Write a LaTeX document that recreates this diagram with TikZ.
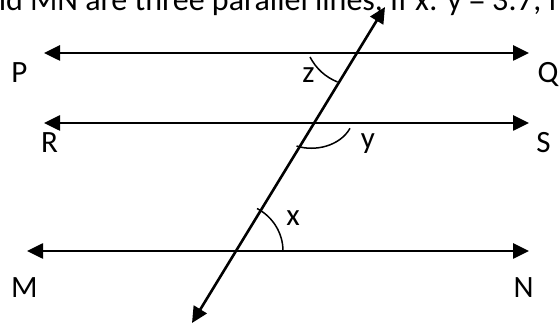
\documentclass[tikz,border=0pt]{standalone}
\usepackage{fontspec}
\setmainfont{Carlito}
\usetikzlibrary{arrows.meta}
\begin{document}
\begin{tikzpicture}[x=1pt,y=-1pt,
  parline/.style={line width=2.6pt, {Triangle[length=16pt,width=15pt]}-{Triangle[length=16pt,width=15pt]}},
  anglearc/.style={line width=1.5pt},
  lbl/.style={inner sep=0pt, anchor=base, font=\fontsize{31}{37}\selectfont},
  toptext/.style={inner sep=0pt, anchor=base west, font=\fontsize{32}{38}\selectfont},
]
\useasboundingbox (0,0) rectangle (559,328);
\begin{scope}
\clip (0,0) rectangle (559,328);
\node[toptext] (question) at (390,11) {\llap{PQ, RS and MN are three parallel lines, }If x: y = 3:7, find z.};
\end{scope}
% line end points
\coordinate (Pend) at (44,53);
\coordinate (Qend) at (529,53);
\coordinate (Rend) at (44,123);
\coordinate (Send) at (529,123);
\coordinate (Mend) at (27,251);
\coordinate (Nend) at (529,251);
\coordinate (Ttop) at (385,7);
\coordinate (Tbot) at (192,323);
% lines
\draw[parline] (Pend) -- (Qend);
\draw[parline] (Rend) -- (Send);
\draw[parline] (Mend) -- (Nend);
\draw[parline] (Tbot) -- (Ttop);
% angle arcs
\coordinate (za) at (310,57);
\coordinate (zb) at (337.5,82);
\draw[anglearc] (za) .. controls (316.1,68.5) and (325.1,76.9) .. (zb);
\coordinate (ya) at (296.5,146);
\coordinate (yb) at (350,128.3);
\draw[anglearc] (ya) .. controls (315,152) and (340,146) .. (yb);
\coordinate (xa) at (283,251);
\coordinate (xb) at (257,208.5);
\draw[anglearc] (xa) .. controls (283,233.2) and (272.9,216.8) .. (xb);
% labels
\node[lbl] (P) at (19.5,83) {P};
\node[lbl] (Q) at (548,83) {Q};
\node[lbl] (R) at (49.5,153) {R};
\node[lbl] (S) at (543.5,153) {S};
\node[lbl] (M) at (24.5,298) {M};
\node[lbl] (N) at (523.5,298) {N};
\node[lbl] (z) at (308.5,83) {z};
\node[lbl] (y) at (368,149) {y};
\node[lbl] (x) at (293,226) {x};
\end{tikzpicture}
\end{document}
